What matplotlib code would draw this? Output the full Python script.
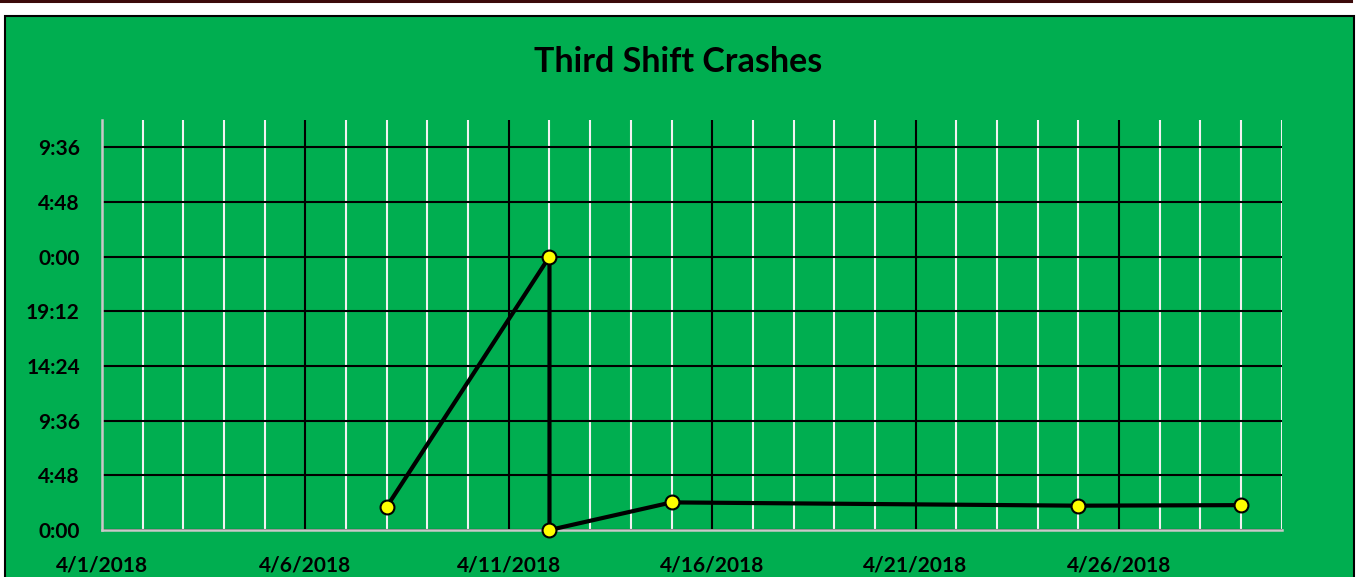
import datetime as dt
import matplotlib
matplotlib.use("Agg")
import matplotlib.pyplot as plt
import matplotlib.dates as mdates
from matplotlib.patches import Rectangle
from matplotlib.lines import Line2D
from matplotlib.ticker import MultipleLocator, FuncFormatter

# crash dates and time of day (fraction of a day)
crash_dates = ["2018-04-08", "2018-04-12", "2018-04-12", "2018-04-15", "2018-04-25", "2018-04-29"]
crash_times = [0.085, 1.0, 0.0, 0.101, 0.089, 0.091]
title = "Third Shift Crashes"

GREEN = "#00AE50"
FONT = ["Lato", "DejaVu Sans"]

dates = [dt.datetime.strptime(d, "%Y-%m-%d") for d in crash_dates]

fig = plt.figure(figsize=(13.57, 5.77), dpi=100)
fig.patch.set_facecolor("white")

# dark strip at the very top and green chart frame (behind the axes)
fig.add_artist(Line2D([0, 1351 / 1357], [1 - 1.2 / 577] * 2, color="#3b0a0a", lw=2.2,
                      transform=fig.transFigure, zorder=-2))
fig.add_artist(Rectangle((5 / 1357, -0.05), 1349 / 1357, 1 - 16 / 577 + 0.05,
                         transform=fig.transFigure, facecolor=GREEN,
                         edgecolor="black", lw=1.5, zorder=-2))

ax = fig.add_axes([102 / 1357, 47 / 577, 1179.7 / 1357, 410 / 577])
ax.set_facecolor(GREEN)

ax.set_xlim(dt.datetime(2018, 4, 1), dt.datetime(2018, 4, 30))
ax.set_ylim(0, 1.5)

ax.xaxis.set_major_locator(mdates.DayLocator(bymonthday=[1, 6, 11, 16, 21, 26]))
ax.xaxis.set_minor_locator(mdates.DayLocator())
ax.xaxis.set_major_formatter(FuncFormatter(
    lambda v, p: "{d.month}/{d.day}/{d.year}".format(d=mdates.num2date(v))))
ax.yaxis.set_major_locator(MultipleLocator(0.2))


def fmt_time(v, p):
    mins = int(round(v * 1440)) % 1440
    return "%d:%02d" % (mins // 60, mins % 60)


ax.yaxis.set_major_formatter(FuncFormatter(fmt_time))

ax.grid(which="minor", axis="x", color="#f2f2f2", lw=1.5)
ax.grid(which="major", axis="x", color="black", lw=1.5)
ax.grid(which="major", axis="y", color="black", lw=1.5)
ax.set_axisbelow(True)

for s in ["top", "right"]:
    ax.spines[s].set_visible(False)
for s in ["left", "bottom"]:
    ax.spines[s].set_color("#c8c8c8")
    ax.spines[s].set_linewidth(1.8)
    ax.spines[s].set_zorder(1.5)

ax.tick_params(which="both", length=0)
ax.tick_params(axis="x", pad=18)
ax.tick_params(axis="y", pad=16)
for lab in ax.get_xticklabels() + ax.get_yticklabels():
    lab.set_fontfamily(FONT)
    lab.set_fontweight("bold")
    lab.set_fontsize(15)

ax.plot(dates, crash_times, color="black", lw=3, marker="o", markersize=10,
        markerfacecolor="#ffff00", markeredgecolor="black", markeredgewidth=1.5,
        clip_on=False, zorder=5)

fig.text(0.5, 1 - 62 / 577, title, ha="center", va="center",
         fontsize=24.5, fontweight="bold", family=FONT)

fig.savefig("out.png", dpi=100)
